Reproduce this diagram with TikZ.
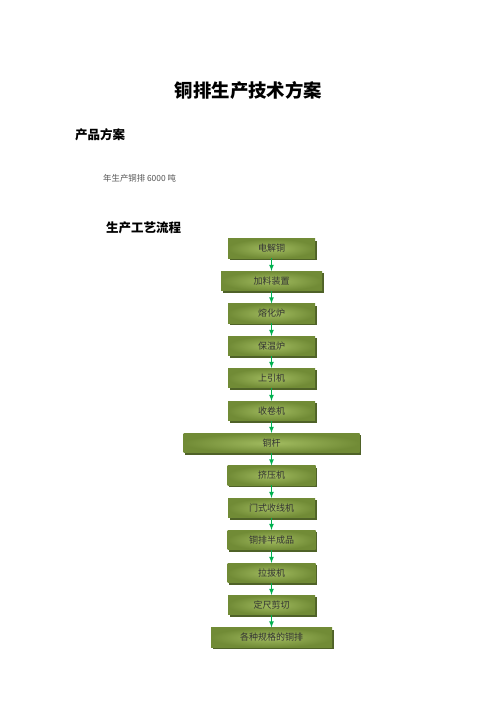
\documentclass[tikz,border=0pt]{standalone}
\usepackage{fontspec}
\newfontfamily\cjk{Noto Sans CJK SC}
\usepackage{xcolor}
\usepackage{tikz}
\usetikzlibrary{arrows, shadows}

\definecolor{boxedge}{HTML}{718B36}
\definecolor{boxmid}{HTML}{A2BC60}
\definecolor{boxshadow}{HTML}{4F6228}
\definecolor{flowgreen}{HTML}{00B050}
\definecolor{notegray}{HTML}{555555}

\begin{document}
\begin{tikzpicture}[x=1pt, y=-1pt,
  stepbox/.style={inner sep=0, minimum height=19.5pt, font=\cjk\fontsize{9}{9}\selectfont,
    text=black!80, inner color=boxmid, outer color=boxedge,
    drop shadow={fill=boxshadow, opacity=1, shadow xshift=1.5pt, shadow yshift=-2pt}},
  flow/.style={->, >=latex, draw=flowgreen, line width=1.1pt},
  heading/.style={inner sep=0, anchor=west, font=\cjk\bfseries\fontsize{12.5}{13}\selectfont}]
\useasboundingbox[fill=white] (0,0) rectangle (496,702);
% Headings
\node[inner sep=0, font=\cjk\bfseries\fontsize{18.4}{19}\selectfont] (title) at (248.5,90) {铜排生产技术方案};
\node[heading] (plan) at (75,135) {产品方案};
\node[inner sep=0, anchor=west, text=notegray, font=\cjk\fontsize{8.4}{9}\selectfont] (output) at (103,178.5) {年生产铜排 6000 吨};
\node[heading] (process) at (106,228) {生产工艺流程};

% Process boxes
\node[stepbox, minimum width=87pt] (cathode) at (271.5,248.5) {电解铜};
\node[stepbox, minimum width=101pt] (feeder) at (271.5,281) {加料装置};
\node[stepbox, minimum width=87pt] (melter) at (271.5,313.5) {熔化炉};
\node[stepbox, minimum width=87pt] (holder) at (271.5,346) {保温炉};
\node[stepbox, minimum width=87pt] (upcast) at (271.5,378) {上引机};
\node[stepbox, minimum width=87pt] (coiler) at (271.5,411) {收卷机};
\node[stepbox, minimum width=176pt] (rod) at (271.5,443) {铜杆};
\node[stepbox, minimum width=88pt] (extruder) at (271.5,475.5) {挤压机};
\node[stepbox, minimum width=87pt] (gantry) at (271.5,508) {门式收线机};
\node[stepbox, minimum width=88pt] (semi) at (271.5,540) {铜排半成品};
\node[stepbox, minimum width=88pt] (drawer) at (271.5,573) {拉拔机};
\node[stepbox, minimum width=87pt] (cutter) at (271.5,605) {定尺剪切};
\node[stepbox, minimum width=121pt] (busbar) at (271.5,637.5) {各种规格的铜排};

% Arrows between steps
\draw[flow] (cathode) -- (feeder);
\draw[flow] (feeder) -- (melter);
\draw[flow] (melter) -- (holder);
\draw[flow] (holder) -- (upcast);
\draw[flow] (upcast) -- (coiler);
\draw[flow] (coiler) -- (rod);
\draw[flow] (rod) -- (extruder);
\draw[flow] (extruder) -- (gantry);
\draw[flow] (gantry) -- (semi);
\draw[flow] (semi) -- (drawer);
\draw[flow] (drawer) -- (cutter);
\draw[flow] (cutter) -- (busbar);
\end{tikzpicture}
\end{document}
